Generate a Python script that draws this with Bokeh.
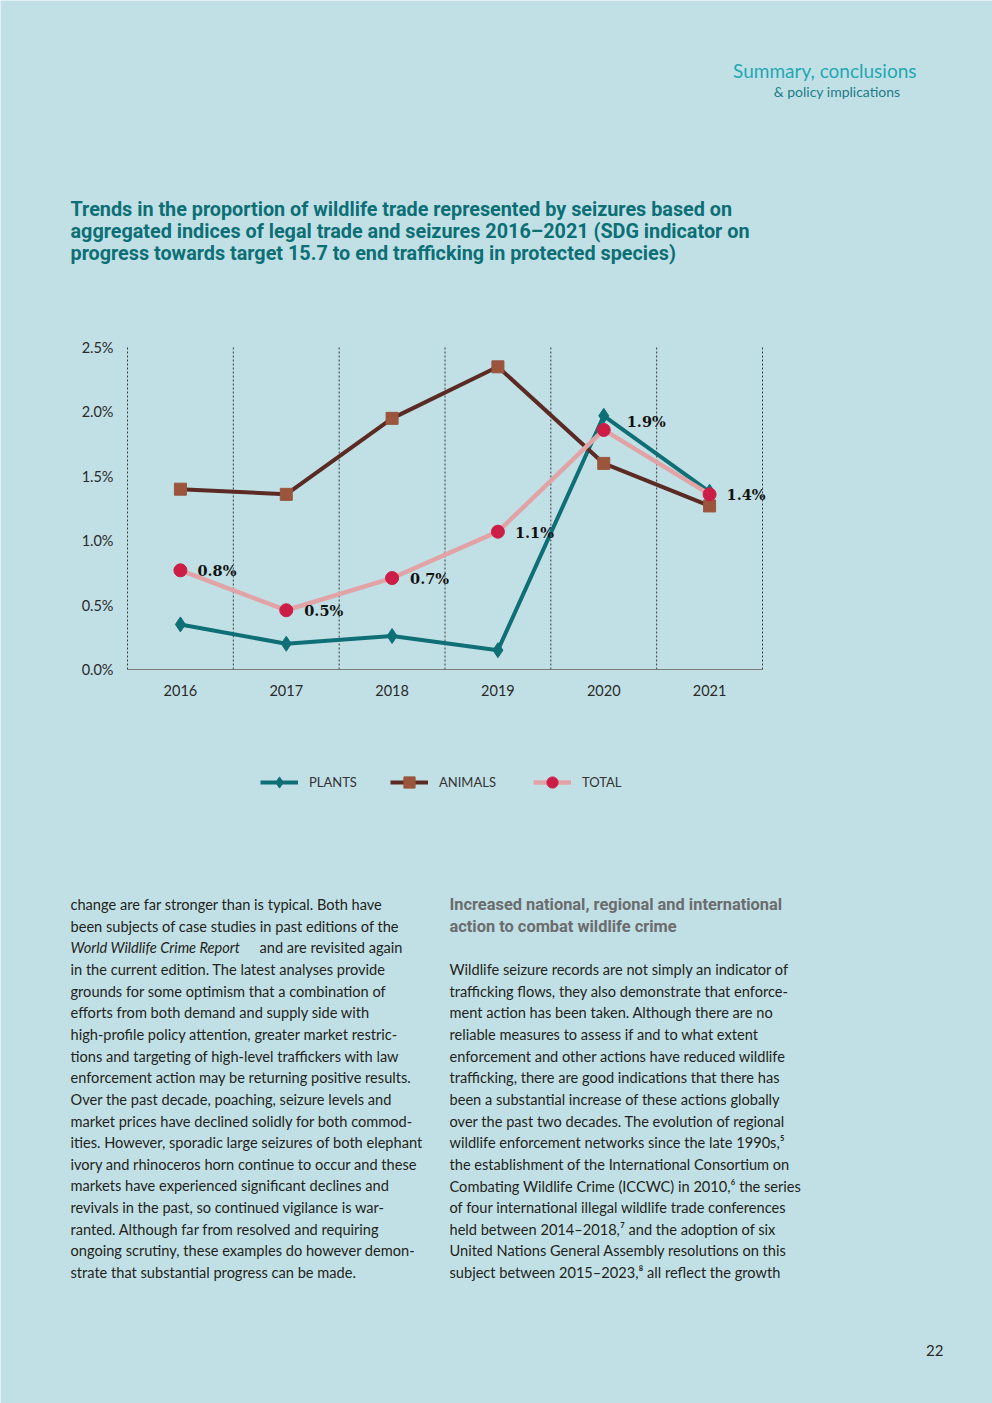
from bokeh.plotting import figure
from bokeh.models import (Range1d, FixedTicker, PrintfTickFormatter, LabelSet,
                          Legend, LegendItem, ColumnDataSource)
from bokeh.embed import file_html
from bokeh.resources import INLINE
from bokeh.core.properties import value

# ---------------- data ----------------
years = [2016, 2017, 2018, 2019, 2020, 2021]
plants = [0.35, 0.20, 0.26, 0.15, 1.97, 1.38]
animals = [1.40, 1.36, 1.95, 2.35, 1.60, 1.27]
total = [0.77, 0.46, 0.71, 1.07, 1.86, 1.36]
total_labels = [f"{v:.1f}%" for v in total]
y_ticks = [0.0, 0.5, 1.0, 1.5, 2.0, 2.5]
series_names = ["PLANTS", "ANIMALS", "TOTAL"]

# label offsets (style, screen px; positive dy = up)
label_dx = [17, 18, 18, 17, 23, 17]
label_dy = [0, 0, 0, -1, 8, 0]

# ---------------- style / page geometry ----------------
BG = "#c1e0e5"
TEAL = "#0f6f76"
BROWN_LINE = "#5a2a23"
BROWN_MARK = "#9b553c"
PINK = "#e2a3a7"
RED = "#cc1d47"
TXT = "#231f20"
BODY_FONT = "Lato"
BODY_SIZE = 14.6
PW, PH = 992, 1403
# chart plot area on the page (pixels)
CL, CR, CT, CB = 127, 762, 347, 669
x_lo, x_hi = years[0] - 0.5, years[-1] + 0.5
y_lo, y_hi = y_ticks[0], y_ticks[-1]
sx = (CR - CL) / (x_hi - x_lo)
sy = (CB - CT) / (y_hi - y_lo)

p = figure(width=PW, height=PH, output_backend="svg", toolbar_location=None, tools="",
           x_range=Range1d(x_lo - CL / sx, x_hi + (PW - CR) / sx),
           y_range=Range1d(y_lo - (PH - CB) / sy, y_hi + CT / sy),
           min_border=0, min_border_left=0, min_border_right=0,
           min_border_top=0, min_border_bottom=0,
           background_fill_color=BG, border_fill_color=BG, outline_line_color=None)
p.extra_x_ranges = {"page": Range1d(0, PW)}
p.extra_y_ranges = {"page": Range1d(PH, 0)}
p.xgrid.visible = False
p.ygrid.visible = False

# axes drawn at the chart area's edges
xa = p.xaxis[0]
xa.fixed_location = y_lo
xa.bounds = (x_lo, x_hi)
xa.ticker = FixedTicker(ticks=years)
xa.axis_line_color = "#7b7b7b"
xa.axis_line_width = 1
xa.major_tick_line_color = None
xa.minor_tick_line_color = None
xa.major_tick_out = 0
xa.major_tick_in = 0
xa.major_label_standoff = 15
xa.major_label_text_font = BODY_FONT
xa.major_label_text_font_size = "14.5px"
xa.major_label_text_color = "#2a2a2a"

ya = p.yaxis[0]
ya.fixed_location = x_lo
ya.bounds = (y_lo, y_hi)
ya.ticker = FixedTicker(ticks=y_ticks)
ya.formatter = PrintfTickFormatter(format="%.1f%%")
ya.axis_line_color = None
ya.major_tick_line_color = None
ya.minor_tick_line_color = None
ya.major_tick_out = 0
ya.major_tick_in = 0
ya.major_label_standoff = 14
ya.major_label_text_font = BODY_FONT
ya.major_label_text_font_size = "14.5px"
ya.major_label_text_color = "#2a2a2a"

# dotted category dividers (vertical grid)
bounds_x = [y - 0.5 for y in years] + [years[-1] + 0.5]
p.segment(x0=bounds_x, x1=bounds_x, y0=[y_lo] * len(bounds_x), y1=[y_hi] * len(bounds_x),
          line_color="#3a3a3a", line_dash="2 2", line_width=1)

# series
r_pl = p.line(years, plants, line_color=TEAL, line_width=4, line_join="round")
m_pl = p.scatter(years, plants, marker="diamond", size=15, fill_color=TEAL, line_color=TEAL)
r_an = p.line(years, animals, line_color=BROWN_LINE, line_width=4, line_join="round")
m_an = p.scatter(years, animals, marker="square", size=12, fill_color=BROWN_MARK, line_color=BROWN_MARK)
r_to = p.line(years, total, line_color=PINK, line_width=4.5, line_join="round")
m_to = p.scatter(years, total, marker="circle", size=13, fill_color=RED, line_color=RED)

src = ColumnDataSource(dict(x=years, y=total, t=total_labels, dx=label_dx, dy=label_dy))
p.add_layout(LabelSet(x="x", y="y", text="t", source=src, x_offset="dx", y_offset="dy",
                      text_font=value("DejaVu Serif"), text_font_style="bold",
                      text_font_size="14.5px", text_color="#111111", text_baseline="middle"))

# legend: one entry per series, below the chart
leg_x = [260, 390, 533]
for name, rends, lx in zip(series_names, [[r_pl, m_pl], [r_an, m_an], [r_to, m_to]], leg_x):
    lg = Legend(items=[LegendItem(label=name, renderers=rends)], location=(lx, PH - 796),
                orientation="horizontal", glyph_width=38, glyph_height=28, padding=0, margin=0,
                label_standoff=11, background_fill_alpha=0, border_line_color=None,
                label_text_font=BODY_FONT, label_text_font_size="13px",
                label_text_color="#333333")
    p.add_layout(lg)


# ---------------- page texts ----------------
def put(txt, X, Y, size, color, font=BODY_FONT, style="normal", align="left"):
    p.text(x=[X], y=[Y], text=[txt], x_range_name="page", y_range_name="page",
           text_font=value(font), text_font_size=f"{size}px", text_font_style=style,
           text_color=color, text_align=align, text_baseline="middle")


put("Summary, conclusions", 916, 70, 19, "#1fa8b4", align="right")
put("& policy implications", 900, 91, 14, "#1b7c88", align="right")

title_lines = [
    "Trends in the proportion of wildlife trade represented by seizures based on",
    "aggregated indices of legal trade and seizures 2016\u20132021 (SDG indicator on",
    "progress towards target 15.7 to end trafficking in protected species)",
]
for i, t in enumerate(title_lines):
    put(t, 70, 209 + 22 * i, 19.8, "#0c6f76", font="Roboto", style="bold")

left_lines = [
    "change are far stronger than is typical. Both have",
    "been subjects of case studies in past editions of the",
    None,
    "in the current edition. The latest analyses provide",
    "grounds for some optimism that a combination of",
    "efforts from both demand and supply side with",
    "high-profile policy attention, greater market restric-",
    "tions and targeting of high-level traffickers with law",
    "enforcement action may be returning positive results.",
    "Over the past decade, poaching, seizure levels and",
    "market prices have declined solidly for both commod-",
    "ities. However, sporadic large seizures of both elephant",
    "ivory and rhinoceros horn continue to occur and these",
    "markets have experienced significant declines and",
    "revivals in the past, so continued vigilance is war-",
    "ranted. Although far from resolved and requiring",
    "ongoing scrutiny, these examples do however demon-",
    "strate that substantial progress can be made.",
]
LH = 21.65
for i, t in enumerate(left_lines):
    y = 904 + LH * i
    if t is None:
        put("World Wildlife Crime Report", 70, y, BODY_SIZE, TXT, style="italic")
        put("and are revisited again", 259, y, BODY_SIZE, TXT)
    else:
        put(t, 70, y, BODY_SIZE, TXT)

put("Increased national, regional and international", 449, 904, 16.4, "#6b6c6e",
    font="Roboto", style="bold")
put("action to combat wildlife crime", 449, 925.6, 16.4, "#6b6c6e", font="Roboto", style="bold")

right_lines = [
    "Wildlife seizure records are not simply an indicator of",
    "trafficking flows, they also demonstrate that enforce-",
    "ment action has been taken. Although there are no",
    "reliable measures to assess if and to what extent",
    "enforcement and other actions have reduced wildlife",
    "trafficking, there are good indications that there has",
    "been a substantial increase of these actions globally",
    "over the past two decades. The evolution of regional",
    "wildlife enforcement networks since the late 1990s,\u2075",
    "the establishment of the International Consortium on",
    "Combating Wildlife Crime (ICCWC) in 2010,\u2076 the series",
    "of four international illegal wildlife trade conferences",
    "held between 2014\u20132018,\u2077 and the adoption of six",
    "United Nations General Assembly resolutions on this",
    "subject between 2015\u20132023,\u2078 all reflect the growth",
]
for i, t in enumerate(right_lines):
    put(t, 449, 969 + LH * i, BODY_SIZE, TXT)

put("22", 943, 1350, 15, "#2a2a2a", align="right")

open("out.html", "w").write(file_html(p, INLINE))
